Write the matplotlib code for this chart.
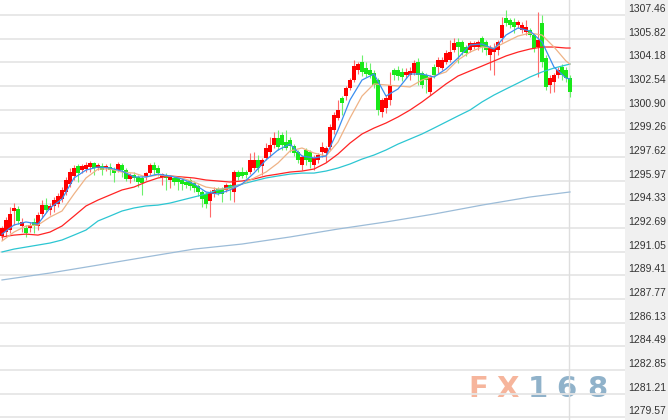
import matplotlib
matplotlib.use('Agg')
import matplotlib.pyplot as plt
import matplotlib.transforms as mtransforms
from matplotlib.patches import Rectangle

# ---------------------------------------------------------------------------
# Data
# ---------------------------------------------------------------------------
OPEN = [
    1292.13, 1292.41, 1292.55, 1293.87, 1294.01, 1292.83, 1292.70, 1292.70, 1293.11, 1292.83,
    1293.66, 1294.28, 1293.94, 1294.21, 1294.35, 1294.70, 1295.19, 1295.74, 1296.30, 1296.99,
    1296.71, 1296.78, 1296.92, 1297.20, 1296.85, 1296.99, 1296.85, 1296.92, 1296.71, 1296.71,
    1297.06, 1296.71, 1296.09, 1296.37, 1296.23, 1296.16, 1296.23, 1296.50, 1297.06, 1296.85,
    1296.23, 1296.37, 1296.02, 1296.16, 1296.16, 1296.02, 1295.88, 1296.02, 1295.81, 1295.60,
    1295.19, 1295.05, 1294.56, 1295.05, 1295.40, 1295.40, 1295.33, 1295.67, 1295.19, 1296.57,
    1296.57, 1296.57, 1296.57, 1296.85, 1297.41, 1296.99, 1297.55, 1297.96, 1298.45, 1298.93,
    1299.14, 1298.65, 1298.79, 1298.38, 1297.96, 1297.06, 1298.10, 1297.96, 1297.06, 1297.41,
    1297.96, 1297.89, 1298.31, 1299.49, 1300.32, 1301.70, 1301.84, 1302.40, 1302.95, 1303.65,
    1304.20, 1303.78, 1303.65, 1303.44, 1302.95, 1300.73, 1301.01, 1301.57, 1303.65, 1303.65,
    1303.51, 1303.30, 1303.30, 1303.44, 1304.20, 1303.44, 1303.30, 1302.12, 1303.85, 1303.85,
    1303.78, 1304.20, 1304.34, 1305.03, 1305.59, 1305.59, 1305.24, 1305.03, 1305.24, 1305.24,
    1305.87, 1305.59, 1304.69, 1304.89, 1305.03, 1305.87, 1307.25, 1307.11, 1306.97, 1306.77,
    1306.42, 1306.28, 1306.42, 1306.07, 1305.24, 1306.91, 1304.48, 1302.61, 1302.81, 1303.30,
    1303.85, 1303.65, 1303.09,
]
HIGH = [
    1292.83, 1293.45, 1294.14, 1294.42, 1294.21, 1293.39, 1292.90, 1293.11, 1293.39, 1293.80,
    1294.63, 1294.77, 1294.42, 1294.84, 1295.12, 1295.53, 1296.23, 1296.85, 1297.06, 1297.13,
    1297.13, 1297.27, 1297.34, 1297.27, 1297.20, 1297.20, 1297.13, 1297.20, 1296.92, 1297.27,
    1297.20, 1296.85, 1296.50, 1296.57, 1296.37, 1296.30, 1296.57, 1297.20, 1297.27, 1297.06,
    1296.50, 1296.50, 1296.37, 1296.30, 1296.30, 1296.16, 1296.02, 1296.16, 1295.95, 1295.74,
    1295.33, 1295.19, 1295.33, 1295.53, 1295.53, 1295.53, 1295.81, 1295.74, 1296.71, 1296.71,
    1296.92, 1296.71, 1297.89, 1297.96, 1297.75, 1297.55, 1298.58, 1299.00, 1299.35, 1299.49,
    1299.35, 1299.49, 1299.00, 1298.51, 1298.10, 1297.75, 1298.24, 1298.10, 1297.75, 1297.89,
    1298.65, 1298.38, 1299.90, 1300.73, 1301.57, 1301.84, 1302.54, 1303.09, 1304.34, 1304.20,
    1304.69, 1304.20, 1304.13, 1303.65, 1303.09, 1301.70, 1301.91, 1303.51, 1303.78, 1303.92,
    1303.78, 1303.78, 1303.85, 1304.34, 1304.48, 1303.58, 1303.44, 1303.30, 1304.06, 1304.55,
    1304.55, 1305.03, 1305.73, 1305.87, 1305.87, 1305.73, 1305.38, 1305.66, 1305.66, 1305.73,
    1306.00, 1305.73, 1305.38, 1305.52, 1305.73, 1307.32, 1307.81, 1307.25, 1307.25, 1307.11,
    1306.97, 1307.11, 1306.56, 1306.21, 1307.67, 1307.46, 1304.69, 1303.30, 1303.44, 1303.85,
    1304.06, 1303.85, 1303.30,
]
LOW = [
    1291.86, 1292.13, 1292.34, 1292.90, 1292.97, 1292.41, 1292.07, 1292.41, 1292.34, 1292.55,
    1293.39, 1293.80, 1293.59, 1293.80, 1294.14, 1294.49, 1294.98, 1295.53, 1296.02, 1295.88,
    1296.50, 1296.57, 1296.57, 1296.37, 1296.71, 1296.37, 1296.64, 1296.37, 1295.88, 1296.57,
    1296.23, 1295.95, 1295.81, 1295.95, 1295.53, 1294.98, 1296.02, 1296.37, 1296.37, 1296.30,
    1295.67, 1295.33, 1295.46, 1295.67, 1295.33, 1295.33, 1295.46, 1295.33, 1295.19, 1294.91,
    1294.14, 1294.08, 1293.45, 1294.84, 1294.98, 1294.49, 1295.19, 1294.63, 1294.49, 1296.02,
    1296.16, 1296.16, 1296.43, 1296.71, 1296.57, 1296.37, 1297.41, 1297.61, 1298.24, 1298.10,
    1298.10, 1298.10, 1297.96, 1297.68, 1297.20, 1296.71, 1297.06, 1296.85, 1296.71, 1297.20,
    1297.61, 1297.27, 1298.10, 1299.21, 1300.18, 1300.53, 1301.57, 1302.26, 1302.81, 1303.37,
    1303.23, 1303.16, 1303.09, 1302.40, 1300.53, 1300.39, 1300.66, 1301.22, 1302.95, 1302.95,
    1302.88, 1303.09, 1302.95, 1303.30, 1302.61, 1302.40, 1302.05, 1301.91, 1303.09, 1303.44,
    1303.65, 1304.06, 1304.20, 1304.89, 1304.13, 1304.69, 1304.62, 1304.89, 1305.10, 1305.03,
    1304.89, 1304.69, 1303.65, 1303.30, 1304.69, 1305.59, 1306.70, 1306.56, 1306.21, 1306.56,
    1306.21, 1306.07, 1305.93, 1304.89, 1303.16, 1303.85, 1302.26, 1302.05, 1302.12, 1303.09,
    1302.95, 1302.81, 1301.77,
]
CLOSE = [
    1292.70, 1293.25, 1293.66, 1294.08, 1293.18, 1293.11, 1292.34, 1292.90, 1292.83, 1293.59,
    1294.28, 1293.94, 1294.21, 1294.63, 1294.91, 1295.33, 1296.02, 1296.57, 1296.85, 1296.50,
    1296.99, 1297.06, 1297.20, 1296.85, 1297.06, 1296.71, 1296.99, 1296.71, 1296.50, 1297.13,
    1296.71, 1296.09, 1296.37, 1296.16, 1295.88, 1295.81, 1296.50, 1297.06, 1296.71, 1296.50,
    1296.43, 1296.16, 1296.23, 1295.88, 1295.88, 1295.74, 1295.67, 1295.60, 1295.46, 1295.19,
    1294.70, 1294.35, 1295.12, 1295.33, 1295.12, 1295.05, 1295.67, 1295.40, 1296.57, 1296.23,
    1296.30, 1296.37, 1297.41, 1297.41, 1296.85, 1297.41, 1298.24, 1298.45, 1298.93, 1298.31,
    1298.45, 1298.24, 1298.38, 1297.89, 1297.41, 1297.61, 1297.41, 1297.27, 1297.55, 1297.75,
    1298.31, 1298.24, 1299.69, 1300.53, 1300.87, 1301.36, 1302.40, 1302.95, 1303.92, 1304.06,
    1303.51, 1303.37, 1303.30, 1302.61, 1300.87, 1301.57, 1301.70, 1302.61, 1303.30, 1303.23,
    1303.16, 1303.51, 1303.58, 1304.13, 1303.30, 1302.61, 1302.95, 1303.16, 1303.30, 1304.34,
    1304.34, 1304.82, 1304.89, 1305.52, 1305.24, 1304.89, 1304.82, 1305.52, 1305.52, 1305.59,
    1305.24, 1305.03, 1305.17, 1305.17, 1305.59, 1306.77, 1306.91, 1306.77, 1306.63, 1306.97,
    1306.77, 1306.63, 1306.07, 1305.17, 1305.73, 1304.20, 1302.47, 1303.09, 1303.30, 1303.65,
    1303.30, 1303.09, 1302.12,
]

# moving averages, sampled at candle indices
MA_IDX = list(range(0, 142, 3)) + [142]
MA5 = [
    1292.27, 1292.90, 1293.11, 1292.97, 1294.08, 1294.70, 1296.16, 1296.71, 1296.92, 1296.85,
    1296.64, 1296.23, 1296.23, 1296.43, 1296.30, 1296.09, 1295.74, 1295.19, 1295.05, 1295.33,
    1295.74, 1296.50, 1297.41, 1298.10, 1298.51, 1297.68, 1297.55, 1297.68, 1299.49, 1301.57,
    1302.95, 1303.37, 1301.84, 1302.33, 1303.37, 1303.37, 1303.16, 1303.72, 1304.48, 1305.38,
    1305.45, 1305.10, 1306.07, 1306.56, 1306.35, 1305.59, 1303.85, 1303.09, 1303.02,
]
MA10 = [
    1291.79, 1292.41, 1292.83, 1292.90, 1293.45, 1293.87, 1295.05, 1296.16, 1296.78, 1296.78,
    1296.57, 1296.50, 1296.23, 1296.37, 1296.30, 1296.16, 1295.88, 1295.53, 1295.40, 1295.40,
    1295.74, 1296.16, 1296.57, 1297.20, 1298.03, 1298.24, 1297.89, 1297.68, 1298.65, 1300.32,
    1301.84, 1302.68, 1302.61, 1302.54, 1302.47, 1302.95, 1303.23, 1303.51, 1304.34, 1304.89,
    1305.24, 1305.17, 1305.59, 1306.00, 1306.21, 1306.07, 1305.24, 1304.27, 1304.06,
]
MA20 = [
    1292.07, 1292.20, 1292.27, 1292.20, 1292.41, 1292.83, 1293.52, 1294.22, 1294.63, 1294.98,
    1295.33, 1295.53, 1295.88, 1296.16, 1296.30, 1296.23, 1296.16, 1296.02, 1295.95, 1295.88,
    1295.95, 1296.09, 1296.30, 1296.43, 1296.57, 1296.64, 1296.78, 1297.20, 1297.82, 1298.58,
    1299.21, 1299.62, 1299.97, 1300.39, 1300.87, 1301.43, 1302.05, 1302.68, 1303.23, 1303.58,
    1303.92, 1304.27, 1304.62, 1304.89, 1305.10, 1305.24, 1305.24, 1305.17, 1305.17,
]
MA60 = [
    1291.03, 1291.23, 1291.37, 1291.51, 1291.65, 1291.86, 1292.20, 1292.55, 1293.18, 1293.52,
    1293.87, 1294.08, 1294.22, 1294.28, 1294.42, 1294.63, 1294.84, 1295.05, 1295.33, 1295.53,
    1295.74, 1295.95, 1296.16, 1296.30, 1296.43, 1296.50, 1296.50, 1296.64, 1296.85, 1297.13,
    1297.47, 1297.75, 1298.10, 1298.51, 1298.86, 1299.21, 1299.62, 1300.04, 1300.46, 1300.87,
    1301.43, 1301.91, 1302.33, 1302.74, 1303.16, 1303.51, 1303.78, 1303.99, 1304.06,
]
MA_LONG_IDX = list(range(0, 133, 12)) + [142]
MA120 = [
    1289.09, 1289.57, 1290.12, 1290.68, 1291.23, 1291.58, 1292.07, 1292.62, 1293.11, 1293.66,
    1294.28, 1294.84, 1295.19,
]

PRICE_LABELS = [
    '1307.46', '1305.82', '1304.18', '1302.54', '1300.90', '1299.26', '1297.62', '1295.97',
    '1294.33', '1292.69', '1291.05', '1289.41', '1287.77', '1286.13', '1284.49', '1282.85',
    '1281.21', '1279.57',
]

# ---------------------------------------------------------------------------
# Style
# ---------------------------------------------------------------------------
W, H = 668, 420
PLOT_RIGHT = 625          # px where the price strip starts
CANDLE_STEP = 4.0         # px between candles
UP_BODY, UP_WICK = '#ff0000', '#ff6a6a'
DOWN_BODY, DOWN_WICK = '#18e818', '#6cf06c'
LINE_COLORS = {
    'ma5': '#3a8ef0',
    'ma10': '#efb386',
    'ma20': '#ff2424',
    'ma60': '#2cc6d2',
    'ma120': '#9cbcd8',
}


def main() -> None:
    fig = plt.figure(figsize=(W / 100, H / 100), dpi=100)
    fig.patch.set_facecolor('white')
    ax = fig.add_axes([0, 0, PLOT_RIGHT / W, 1])

    n = len(OPEN)
    xs = list(range(n))
    up = [c >= o for o, c in zip(OPEN, CLOSE)]
    bottoms = [min(o, c) for o, c in zip(OPEN, CLOSE)]
    heights = [max(abs(c - o), 0.05) for o, c in zip(OPEN, CLOSE)]

    ax.vlines(xs, LOW, HIGH, colors=[UP_WICK if u else DOWN_WICK for u in up],
              linewidth=0.8, zorder=2)
    ax.bar(xs, heights, bottom=bottoms, width=0.8, linewidth=0, antialiased=False,
           color=[UP_BODY if u else DOWN_BODY for u in up], zorder=3)

    ax.plot(MA_LONG_IDX, MA120, color=LINE_COLORS['ma120'], lw=0.9, zorder=4)
    ax.plot(MA_IDX, MA60, color=LINE_COLORS['ma60'], lw=0.9, zorder=4)
    ax.plot(MA_IDX, MA20, color=LINE_COLORS['ma20'], lw=0.9, zorder=4)
    ax.plot(MA_IDX, MA10, color=LINE_COLORS['ma10'], lw=0.9, zorder=4)
    ax.plot(MA_IDX, MA5, color=LINE_COLORS['ma5'], lw=0.9, zorder=5)

    # axis scaling: first candle sits 2 px from the left edge
    ax.set_xlim(-0.5, -0.5 + PLOT_RIGHT / CANDLE_STEP)
    ax.set_ylim(1279.38, 1308.50)

    ticks = [float(t) for t in PRICE_LABELS]
    ax.set_yticks(ticks)
    ax.set_xticks([])
    ax.grid(axis='y', color='#e6e6e6', linewidth=1.3)
    ax.set_axisbelow(True)
    ax.tick_params(left=False, labelleft=False, right=False, labelright=False)
    for sp in ax.spines.values():
        sp.set_visible(False)

    # marker line at the latest bar
    ax.axvline(n - 1.25, color='#dedede', linewidth=1.0, zorder=1)

    # price strip on the right
    fig.add_artist(Rectangle((PLOT_RIGHT / W, 0), 1 - PLOT_RIGHT / W, 1,
                             transform=fig.transFigure, facecolor='#f0f0f0',
                             edgecolor='none', zorder=0))
    label_trans = mtransforms.offset_copy(
        mtransforms.blended_transform_factory(fig.transFigure, ax.transData),
        fig=fig, x=0, y=3, units='dots')
    for t, lab in zip(ticks, PRICE_LABELS):
        fig.text(628 / W, t, lab, transform=label_trans, ha='left', va='baseline',
                 fontsize=7.5, family='Liberation Sans', color='#333333')

    # FX168 watermark
    pix = mtransforms.IdentityTransform()
    marks = [('F', 478, '#f6b59c'), ('X', 508, '#f6b59c'),
             ('1', 538, '#90b2ca'), ('6', 566, '#90b2ca'), ('8', 597, '#90b2ca')]
    for ch, cx, col in marks:
        ax.text(cx, H - 397, ch, transform=pix, ha='center', va='baseline',
                fontsize=21, fontweight='bold', family='DejaVu Sans',
                color=col, zorder=0.5)

    fig.savefig('out.png', dpi=100)
    plt.close(fig)


if __name__ == '__main__':
    main()
